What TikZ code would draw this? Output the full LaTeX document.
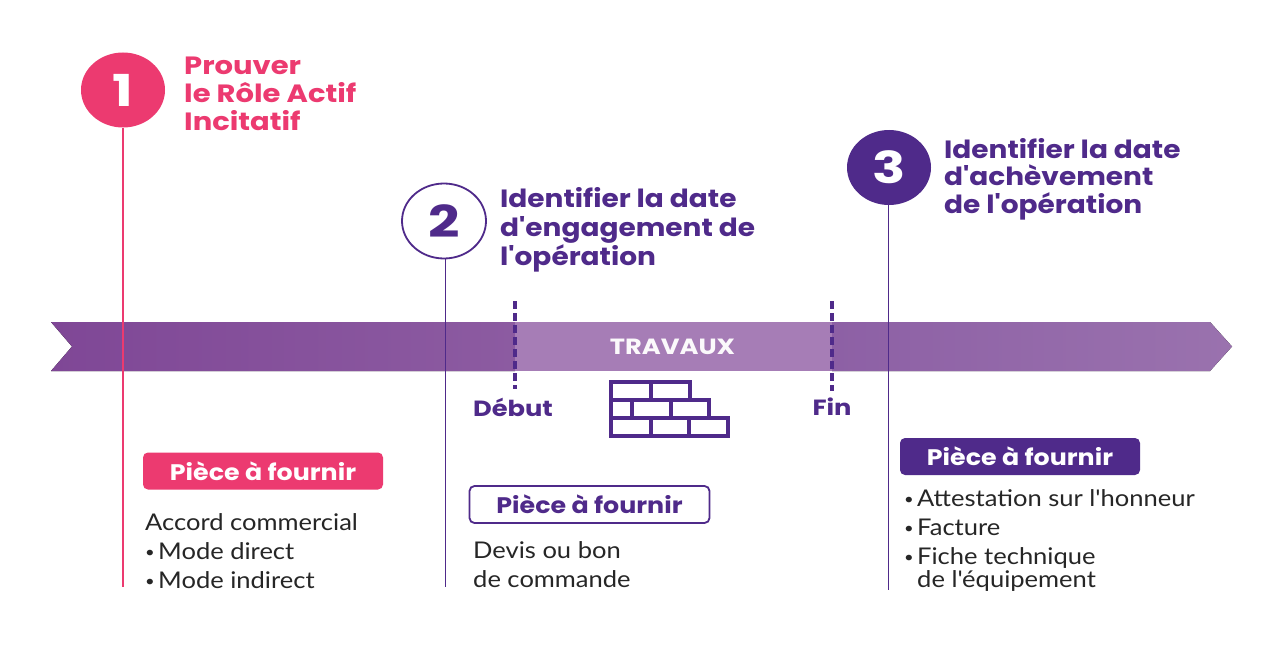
\documentclass[tikz,border=0pt]{standalone}
\usepackage{fontspec}
\setmainfont{Poppins}
\newfontfamily\bodyfont[FakeStretch=1.11]{Lato}
\newfontfamily\headfont[FakeStretch=1.12]{Poppins}
\newfontfamily\pinkfont[FakeStretch=1.16]{Poppins}
\newfontfamily\piecefont[FakeStretch=1.125]{Poppins}
\newfontfamily\labelfont[FakeStretch=1.17]{Poppins}
\newfontfamily\numfont[FakeStretch=1.25]{Poppins}
\usetikzlibrary{positioning,shapes.geometric}
\definecolor{pinkc}{HTML}{EC3A70}
\definecolor{purp}{HTML}{4F2A8A}
\definecolor{bandA}{HTML}{7F4796}
\definecolor{bandB}{HTML}{8C5BA1}
\definecolor{bandC}{HTML}{A67DB6}
\definecolor{bandD}{HTML}{9A72AE}
\definecolor{bandE}{HTML}{8D60A5}
\newcommand{\bul}{\makebox[13pt][l]{\raisebox{1.5pt}{\fontsize{15}{15}\selectfont •}}}
\tikzset{
  x=1pt,y=-1pt,
  head/.style={anchor=north west,align=left,inner sep=0pt},
  num/.style={ellipse,minimum width=84pt,minimum height=75pt,inner sep=0pt,font=\fontsize{44}{44}\selectfont\numfont\bfseries},
  body/.style={anchor=north west,align=left,inner sep=0pt,text=black!85,font=\fontsize{23}{29}\selectfont\bodyfont},
  piece/.style={rounded corners=5pt,minimum width=240pt,minimum height=37pt,inner sep=0pt,font=\fontsize{22.5}{24}\selectfont\piecefont\bfseries},
  vline/.style={line width=1.9pt},
  limit/.style={purp,line width=3.6pt,dash pattern=on 7.5pt off 4.5pt},
  brick/.style={purp,line width=4pt},
  marker/.style={anchor=north,inner sep=0pt,text=purp,font=\fontsize{22}{24}\selectfont\labelfont\bfseries}
}
\begin{document}
\begin{tikzpicture}
\useasboundingbox (0,0) rectangle (1276,658);
\fill[white] (0,0) rectangle (1276,658);
% band
\fill[left color=bandA,right color=bandB] (51,322) -- (515,322) -- (515,371) -- (51,371) -- (72,346.5) -- cycle;
\fill[bandC] (515,322) rectangle (832,371);
\fill[left color=bandE,right color=bandD] (832,322) -- (1210,322) -- (1232,346.5) -- (1210,371) -- (832,371) -- cycle;
\node[inner sep=0pt,text=white!95!bandC,font=\fontsize{22}{24}\selectfont\labelfont\bfseries] (travaux) at (672.5,347) {TRAVAUX};
% circles
\node[num,fill=pinkc,text=white] (c1) at (123,90) {1};
\node[num,draw=purp,line width=1.8pt,fill=white,text=purp] (c2) at (444,221) {2};
\node[num,fill=purp,text=white] (c3) at (889,167.5) {3};
\coordinate (e1) at (123,587);
\coordinate (e2) at (445.5,587);
\coordinate (e3) at (888.5,590);
\draw[vline,draw=pinkc] (c1.south) -- (e1);
\draw[vline,draw=purp] (445.5,259) -- (e2);
\draw[vline,draw=purp] (888.5,205) -- (e3);
% headings
\node[head,text=pinkc,font=\fontsize{25}{28}\selectfont\pinkfont\bfseries] (h1) at (184,57) {Prouver\\le Rôle Actif\\Incitatif};
\node[head,text=purp,font=\fontsize{25}{29}\selectfont\headfont\bfseries] (h2) at (500,187) {Identifier la date\\d'engagement de\\l'opération};
\node[head,text=purp,font=\fontsize{25}{27.5}\selectfont\headfont\bfseries] (h3) at (944,138) {Identifier la date\\d'achèvement\\de l'opération};
% dashed markers
\coordinate (d1a) at (515,301); \coordinate (d1b) at (515,389);
\coordinate (d2a) at (832,301); \coordinate (d2b) at (832,391);
\draw[limit] (d1a) -- (d1b);
\draw[limit] (d2a) -- (d2b);
\node[marker] (debut) at (513,398) {Début};
\node[marker] (fin) at (832,398) {Fin};
% wall
\draw[brick] (611,398) -- (611,382) -- (689.5,382) -- (689.5,398);
\draw[brick] (611,398) -- (611,435.5) -- (728,435.5) -- (728,417.5) -- (709,417.5) -- (709,399.5) -- (611,399.5);
\draw[brick] (611,417.5) -- (709,417.5);
\draw[brick] (650.5,383) -- (650.5,399);
\draw[brick] (631.5,400) -- (631.5,417);
\draw[brick] (670.5,400) -- (670.5,417);
\draw[brick] (650.5,418) -- (650.5,435);
\draw[brick] (688.5,418) -- (688.5,435);
% piece boxes
\node[piece,fill=pinkc,text=white] (p1) at (263,471) {Pièce à fournir};
\node[piece,draw=purp,line width=1.8pt,fill=white,text=purp] (p2) at (589.5,504.5) {Pièce à fournir};
\node[piece,fill=purp,text=white] (p3) at (1020,456.5) {Pièce à fournir};
% bodies
\node[body] (b1) at (145,513) {Accord commercial\\\bul Mode direct\\\bul Mode indirect};
\node[body,font=\fontsize{23}{29.5}\selectfont\bodyfont] (b2) at (473,541) {Devis ou bon\\de commande};
\node[body] (b3) at (904,489) {\bul Attestation sur l'honneur\\\bul Facture\\\bul Fiche technique\\[-6pt]\hspace*{13pt}de l'équipement};
\end{tikzpicture}
\end{document}
